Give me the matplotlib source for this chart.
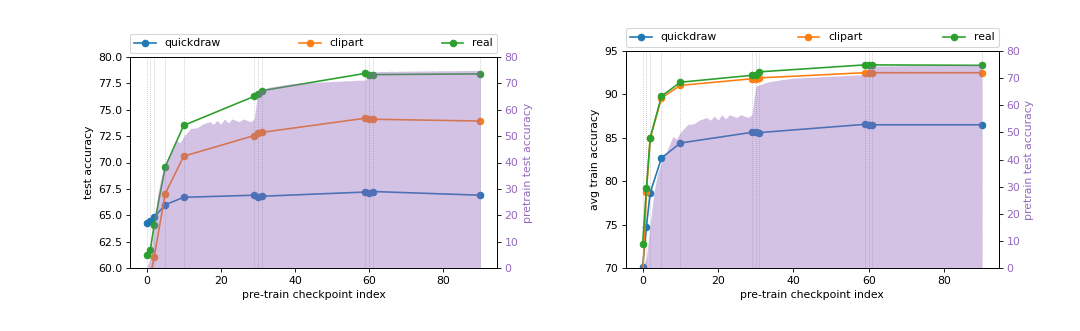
#!/usr/bin/env python3
"""Downstream accuracy vs. pre-train checkpoint, with pretrain test accuracy shaded behind."""

import matplotlib

matplotlib.use("Agg")

import matplotlib.pyplot as plt
import numpy as np

CHECKPOINTS = [0, 1, 2, 5, 10, 29, 30, 31, 59, 60, 61, 90]
DOMAINS = ["quickdraw", "clipart", "real"]
DOMAIN_COLORS = {"quickdraw": "tab:blue", "clipart": "tab:orange", "real": "tab:green"}

# test accuracy (left panel)
TEST_QUICKDRAW = [64.3, 64.5, 64.8, 66.0, 66.7, 66.9, 66.75, 66.8, 67.2, 67.15, 67.25, 66.9]
TEST_CLIPART = [56.0, 59.25, 61.0, 67.05, 70.6, 72.55, 72.8, 72.85, 74.2, 74.1, 74.1, 73.93]
TEST_REAL = [61.23, 61.74, 64.04, 69.6, 73.52, 76.27, 76.5, 76.8, 78.45, 78.33, 78.33, 78.4]

# avg train accuracy (right panel)
TRAIN_QUICKDRAW = [70.15, 74.76, 78.68, 82.67, 84.4, 85.63, 85.67, 85.6, 86.55, 86.47, 86.5, 86.5]
TRAIN_CLIPART = [69.0, 78.72, 84.94, 89.6, 91.04, 91.8, 91.8, 91.9, 92.5, 92.5, 92.5, 92.5]
TRAIN_REAL = [72.8, 79.18, 84.98, 89.8, 91.4, 92.2, 92.2, 92.6, 93.4, 93.4, 93.4, 93.35]

# pretrain test accuracy per epoch (0..90)
PRETRAIN_ACC = [
    0.0, 4.0, 16.0, 28.0, 35.0, 39.0, 42.0, 45.0, 48.5, 47.5,
    50.0, 51.5, 53.0, 53.0, 53.5, 54.5, 55.0, 55.5, 54.5, 56.0,
    54.5, 56.5, 55.0, 56.5, 56.0, 55.5, 56.5, 56.0, 55.5, 56.5,
    67.0, 67.5, 68.0, 68.5, 68.8, 69.0, 69.2, 69.5, 69.6, 69.8,
    70.0, 70.1, 70.1, 70.2, 70.3, 70.3, 70.4, 70.5, 70.6, 70.6,
    70.7, 70.8, 70.8, 70.9, 71.0, 71.0, 71.1, 71.2, 71.2, 71.3,
    74.3, 74.4, 74.4, 74.5, 74.5, 74.5, 74.6, 74.5, 74.6, 74.6,
    74.6, 74.7, 74.6, 74.7, 74.7, 74.7, 74.7, 74.8, 74.7, 74.8,
    74.8, 74.8, 74.8, 74.8, 74.9, 74.8, 74.9, 74.9, 74.9, 74.9,
    74.9,
]

DPI = 78


def plot_panel(fig, rect, series, ylabel, ylim, yticks=None):
    ax = fig.add_axes(rect)
    for x in CHECKPOINTS:
        ax.axvline(x, color="gray", linestyle=":", linewidth=0.7, alpha=0.6)
    for name, ys in zip(DOMAINS, series):
        ax.plot(CHECKPOINTS, ys, marker="o", color=DOMAIN_COLORS[name], label=name)
    ax.set_ylim(*ylim)
    if yticks is not None:
        ax.set_yticks(yticks)
    ax.set_xlabel("pre-train checkpoint index")
    ax.set_ylabel(ylabel)
    ax.legend(bbox_to_anchor=(0.0, 1.02, 1.0, 0.102), loc="lower left",
              ncol=3, mode="expand", borderaxespad=0.0)

    ax2 = ax.twinx()
    epochs = np.arange(len(PRETRAIN_ACC))
    ax2.fill_between(epochs, PRETRAIN_ACC, color="tab:purple", alpha=0.4, linewidth=0)
    ax2.set_ylim(0, 80)
    ax2.set_ylabel("pretrain test accuracy", color="tab:purple")
    ax2.tick_params(axis="y", labelcolor="tab:purple")
    return ax


def main():
    fig = plt.figure(figsize=(1080 / DPI, 331 / DPI), dpi=DPI)

    plot_panel(fig, [130 / 1080, 63 / 331, 367 / 1080, 211 / 331],
               [TEST_QUICKDRAW, TEST_CLIPART, TEST_REAL],
               "test accuracy", (60, 80))
    plot_panel(fig, [625.7 / 1080, 63 / 331, 373 / 1080, 217 / 331],
               [TRAIN_QUICKDRAW, TRAIN_CLIPART, TRAIN_REAL],
               "avg train accuracy", (70, 95), yticks=[70, 75, 80, 85, 90, 95])

    fig.savefig("out.png", dpi=DPI)
    plt.close(fig)


if __name__ == "__main__":
    main()
